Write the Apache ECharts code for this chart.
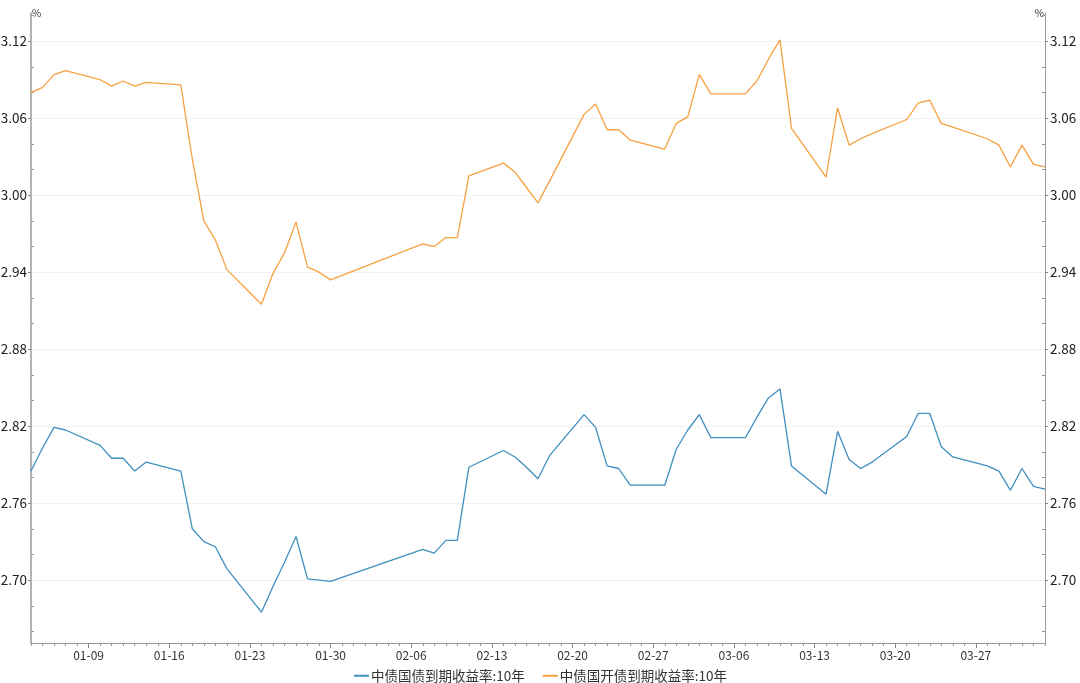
<!DOCTYPE html>
<html><head><meta charset="utf-8">
<script src="https://cdn.jsdelivr.net/npm/echarts@6/dist/echarts.min.js"></script>
<style>html,body{margin:0;padding:0;background:#fff}#c{width:1080px;height:683px}</style>
</head><body><div id="c"></div>
<script>
const tradeDates = [
 '2022-01-04','2022-01-05','2022-01-06','2022-01-07',
 '2022-01-10','2022-01-11','2022-01-12','2022-01-13','2022-01-14',
 '2022-01-17','2022-01-18','2022-01-19','2022-01-20','2022-01-21',
 '2022-01-24','2022-01-25','2022-01-26','2022-01-27','2022-01-28','2022-01-29','2022-01-30',
 '2022-02-07','2022-02-08','2022-02-09','2022-02-10','2022-02-11',
 '2022-02-14','2022-02-15','2022-02-16','2022-02-17','2022-02-18',
 '2022-02-21','2022-02-22','2022-02-23','2022-02-24','2022-02-25',
 '2022-02-28','2022-03-01','2022-03-02','2022-03-03','2022-03-04',
 '2022-03-07','2022-03-08','2022-03-09','2022-03-10','2022-03-11',
 '2022-03-14','2022-03-15','2022-03-16','2022-03-17','2022-03-18',
 '2022-03-21','2022-03-22','2022-03-23','2022-03-24','2022-03-25',
 '2022-03-28','2022-03-29','2022-03-30','2022-03-31','2022-04-01','2022-04-02'
];
const govYield = [
 2.785,2.803,2.819,2.817,
 2.805,2.795,2.795,2.785,2.792,
 2.785,2.740,2.730,2.726,2.709,
 2.675,2.695,2.714,2.734,2.701,2.700,2.699,
 2.724,2.721,2.731,2.731,2.788,
 2.801,2.796,2.788,2.779,2.797,
 2.829,2.819,2.789,2.787,2.774,
 2.774,2.802,2.817,2.829,2.811,
 2.811,2.827,2.842,2.849,2.789,
 2.767,2.816,2.794,2.787,2.792,
 2.812,2.830,2.830,2.804,2.796,
 2.789,2.785,2.770,2.787,2.773,2.771
];
const cdbYield = [
 3.080,3.084,3.094,3.097,
 3.090,3.085,3.089,3.085,3.088,
 3.086,3.028,2.980,2.965,2.942,
 2.915,2.939,2.955,2.979,2.944,2.940,2.934,
 2.962,2.960,2.967,2.967,3.015,
 3.025,3.018,3.006,2.994,3.011,
 3.063,3.071,3.051,3.051,3.043,
 3.036,3.056,3.061,3.094,3.079,
 3.079,3.089,3.106,3.121,3.052,
 3.014,3.068,3.039,3.044,3.048,
 3.059,3.072,3.074,3.056,3.053,
 3.044,3.039,3.022,3.039,3.024,3.022
];
const seriesNames = ['中债国债到期收益率:10年','中债国开债到期收益率:10年'];
const xTickLabels = ['01-09','01-16','01-23','01-30','02-06','02-13','02-20','02-27','03-06','03-13','03-20','03-27'];
const yTicks = [2.70,2.76,2.82,2.88,2.94,3.00,3.06,3.12];
const yMinorTicks = [2.66,2.68,2.72,2.74,2.78,2.80,2.84,2.86,2.90,2.92,2.96,2.98,3.02,3.04,3.08,3.10,3.14];
const yMin = 2.651, yMax = 3.142;

// calendar-day categories spanning the trading dates
const categories = [];
(function(){
  const d = new Date(tradeDates[0] + 'T00:00:00Z');
  const end = new Date(tradeDates[tradeDates.length-1] + 'T00:00:00Z');
  while (d <= end) {
    categories.push(d.toISOString().slice(0,10));
    d.setUTCDate(d.getUTCDate()+1);
  }
})();
const isMajor = (idx, val) => xTickLabels.indexOf(val.slice(5)) >= 0;
const toPairs = vals => tradeDates.map((d,i) => [categories.indexOf(d), vals[i]]);

const font = "'Noto Sans CJK SC','Noto Sans',sans-serif";
const chart = echarts.init(document.getElementById('c'));
chart.setOption({
  animation: false,
  backgroundColor: '#fff',
  textStyle: {fontFamily: font},
  grid: {left: 31, right: 35, top: 13, bottom: 40, containLabel: false, outerBoundsMode: 'none'},
  legend: {
    data: seriesNames, left: 'center', top: 664, itemGap: 17, itemWidth: 15, itemHeight: 2,
    textStyle: {fontSize: 13.5, color: '#333', fontFamily: font, padding: [0,0,0,-3]}
  },
  xAxis: [
    {type: 'category', data: categories, boundaryGap: false, position: 'bottom',
     axisLine: {show: true, lineStyle: {color: '#999', width: 1}},
     axisTick: {show: true, interval: 0, length: 3, lineStyle: {color: '#999'}},
     axisLabel: {show: false}, splitLine: {show: false}},
    {type: 'category', data: categories, boundaryGap: false, position: 'bottom',
     axisLine: {show: false},
     axisTick: {show: true, interval: isMajor, length: 5, lineStyle: {color: '#888'}},
     axisLabel: {show: true, interval: isMajor, formatter: v => v.slice(5), fontSize: 12, color: '#333', margin: 6},
     splitLine: {show: false}}
  ],
  yAxis: [
    {type: 'value', position: 'left', min: yMin, max: yMax, name: '%', nameLocation: 'end', nameGap: 0,
     nameTextStyle: {fontSize: 10, color: '#333', align: 'left', verticalAlign: 'middle', padding: [0,0,0,1]},
     axisLine: {show: true, lineStyle: {color: '#b4b4b4', width: 2}},
     axisTick: {show: true, customValues: yTicks, length: 3, lineStyle: {color: '#888'}},
     axisLabel: {customValues: yTicks, formatter: v => v.toFixed(2), fontSize: 13.5, color: '#222', margin: 4},
     splitLine: {show: true, lineStyle: {color: '#f2f2f2'}}},
    {type: 'value', position: 'right', min: yMin, max: yMax, name: '%', nameLocation: 'end', nameGap: 0,
     nameTextStyle: {fontSize: 10, color: '#333', align: 'right', verticalAlign: 'middle', padding: [0,1,0,0]},
     axisLine: {show: true, lineStyle: {color: '#999', width: 1}},
     axisTick: {show: true, customValues: yTicks, length: 3, lineStyle: {color: '#888'}},
     axisLabel: {customValues: yTicks, formatter: v => v.toFixed(2), fontSize: 13.5, color: '#222', margin: 5},
     splitLine: {show: false}},
    {type: 'value', position: 'left', min: yMin, max: yMax,
     axisLine: {show: false},
     axisTick: {show: true, inside: true, customValues: yMinorTicks, length: 3, lineStyle: {color: '#999'}},
     axisLabel: {show: false}, splitLine: {show: false}},
    {type: 'value', position: 'right', min: yMin, max: yMax,
     axisLine: {show: false},
     axisTick: {show: true, inside: true, customValues: yMinorTicks, length: 3, lineStyle: {color: '#999'}},
     axisLabel: {show: false}, splitLine: {show: false}}
  ],
  series: [
    {name: seriesNames[0], type: 'line', xAxisIndex: 0, yAxisIndex: 0, data: toPairs(govYield),
     symbol: 'none', showSymbol: false, lineStyle: {color: '#3f8fc0', width: 1.3}, itemStyle: {color: '#3f8fc0'}},
    {name: seriesNames[1], type: 'line', xAxisIndex: 0, yAxisIndex: 0, data: toPairs(cdbYield),
     symbol: 'none', showSymbol: false, lineStyle: {color: '#f7a040', width: 1.3}, itemStyle: {color: '#f7a040'}}
  ]
});
</script></body></html>
